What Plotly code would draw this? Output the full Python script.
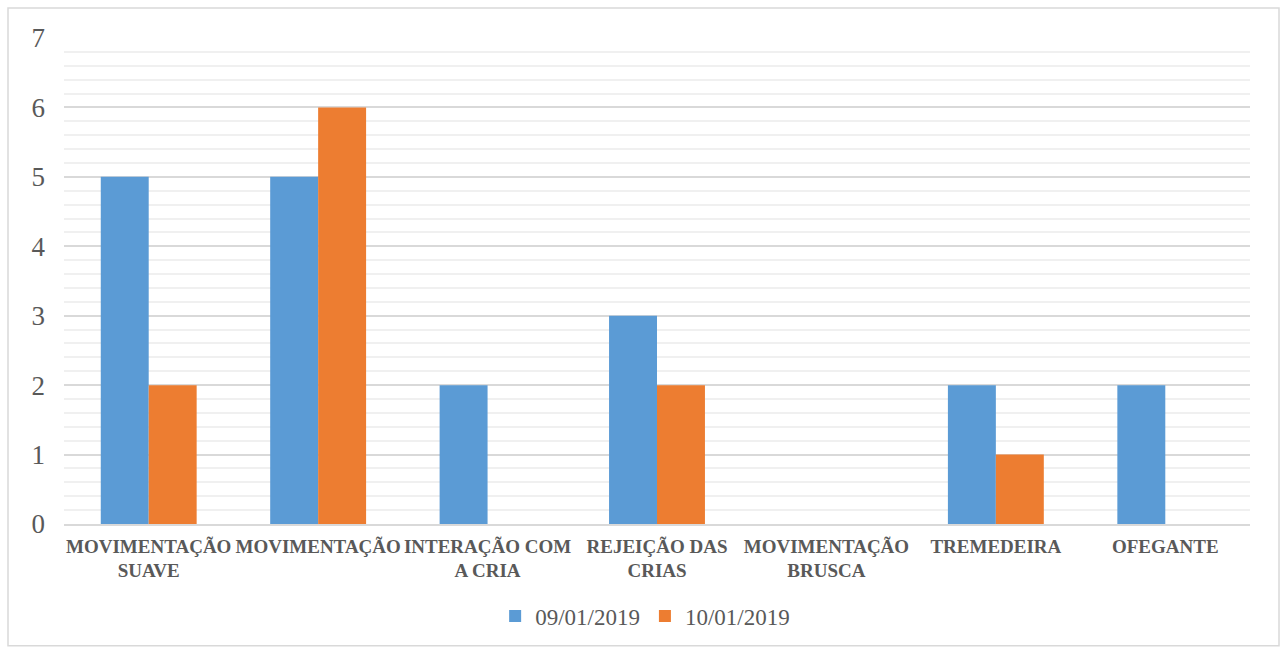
import plotly.graph_objects as go

categories = ["MOVIMENTAÇÃO<br>SUAVE", "MOVIMENTAÇÃO", "INTERAÇÃO COM<br>A CRIA",
              "REJEIÇÃO DAS<br>CRIAS", "MOVIMENTAÇÃO<br>BRUSCA", "TREMEDEIRA", "OFEGANTE"]
series1_name = "09/01/2019"
series1 = [5, 5, 2, 3, 0, 2, 2]
series2_name = "10/01/2019"
series2 = [2, 6, 0, 2, 0, 1, 0]
y_ticks = [0, 1, 2, 3, 4, 5, 6, 7]

W, H = 1284, 648
ml, mr, mt, mb = 64, 34, 38, 123
pw, ph = W - ml - mr, H - mt - mb
FAM = "Liberation Serif"
GRAY = "#595959"

fig = go.Figure()
fig.add_trace(go.Bar(x=categories, y=series1, name=series1_name, marker_color="#5b9bd5",
                     marker_line_width=0))
fig.add_trace(go.Bar(x=categories, y=series2, name=series2_name, marker_color="#ed7d31",
                     marker_line_width=0))

fig.update_layout(
    width=W, height=H,
    margin=dict(l=ml, r=mr, t=mt, b=mb),
    paper_bgcolor="white", plot_bgcolor="white",
    font=dict(family=FAM, color=GRAY),
    barmode="group", bargap=0.434, bargroupgap=0,
    showlegend=True,
    legend=dict(orientation="h", x=0.49, xanchor="center",
                y=(mt + ph - 616) / ph, yanchor="middle",
                font=dict(family=FAM, size=23, color=GRAY),
                itemwidth=30, traceorder="normal"),
    xaxis=dict(showgrid=False, showline=True, linecolor="#d9d9d9", linewidth=1.5,
               ticks="", tickangle=0, ticklabelstandoff=4,
               tickfont=dict(size=19, family=FAM, color=GRAY, weight="bold")),
    yaxis=dict(range=[0, 7], tickvals=y_ticks, showgrid=True, gridcolor="#d9d9d9",
               gridwidth=1.5, zeroline=False, showline=False,
               tickfont=dict(size=27, family=FAM, color=GRAY), ticklabelstandoff=18,
               minor=dict(dtick=0.2, showgrid=True, gridcolor="#f0f0f0", gridwidth=1.5)),
    shapes=[dict(type="rect", xref="paper", yref="paper",
                 x0=(8 - ml) / pw, x1=(1279 - ml) / pw,
                 y0=(mt + ph - 647) / ph, y1=1 + (mt - 8) / ph,
                 line=dict(color="#d9d9d9", width=1.5), fillcolor="rgba(0,0,0,0)",
                 layer="below")],
)

fig.write_html("out.html")
